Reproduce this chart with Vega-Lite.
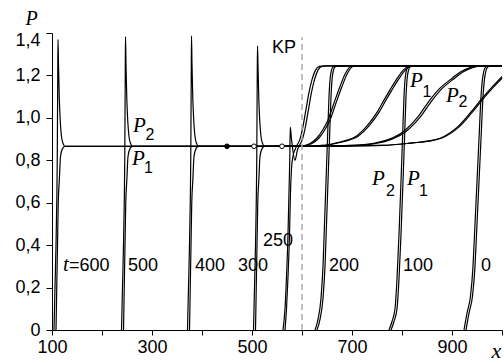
{
  "$schema": "https://vega.github.io/schema/vega-lite/v6.json",
  "width": 450,
  "height": 297,
  "autosize": {"type": "none"},
  "padding": {"left": 52, "top": 33, "right": 2, "bottom": 31},
  "background": "white",
  "config": {"view": {"stroke": null}},
  "datasets": {
    "profiles": [
      {"t":600,"v":"P2","x":104,"p":0},{"t":600,"v":"P2","x":106,"p":0.2},{"t":600,"v":"P2","x":108,"p":0.4},{"t":600,"v":"P2","x":109.5,"p":0.6},{"t":600,"v":"P2","x":110.5,"p":0.8},{"t":600,"v":"P2","x":111,"p":1.0},{"t":600,"v":"P2","x":111.5,"p":1.2},{"t":600,"v":"P2","x":112,"p":1.37},{"t":600,"v":"P2","x":113,"p":1.25},{"t":600,"v":"P2","x":114.5,"p":1.1},{"t":600,"v":"P2","x":116,"p":1.01},{"t":600,"v":"P2","x":119,"p":0.912},{"t":600,"v":"P2","x":122,"p":0.88},{"t":600,"v":"P2","x":126,"p":0.866},
      {"t":600,"v":"P2","x":603,"p":0.866},{"t":600,"v":"P2","x":763,"p":0.87},{"t":600,"v":"P2","x":823,"p":0.882},{"t":600,"v":"P2","x":853,"p":0.89},{"t":600,"v":"P2","x":879,"p":0.904},{"t":600,"v":"P2","x":913,"p":0.955},{"t":600,"v":"P2","x":939,"p":1.022},{"t":600,"v":"P2","x":966,"p":1.1},{"t":600,"v":"P2","x":983,"p":1.145},{"t":600,"v":"P2","x":1000,"p":1.187},
      {"t":600,"v":"P1","x":108,"p":0},{"t":600,"v":"P1","x":109.5,"p":0.2},{"t":600,"v":"P1","x":111,"p":0.4},{"t":600,"v":"P1","x":112.5,"p":0.6},{"t":600,"v":"P1","x":114.7,"p":0.708},{"t":600,"v":"P1","x":117,"p":0.818},{"t":600,"v":"P1","x":121,"p":0.855},{"t":600,"v":"P1","x":126,"p":0.866},
      {"t":600,"v":"P1","x":600,"p":0.866},{"t":600,"v":"P1","x":760,"p":0.87},{"t":600,"v":"P1","x":820,"p":0.882},{"t":600,"v":"P1","x":850,"p":0.89},{"t":600,"v":"P1","x":876,"p":0.904},{"t":600,"v":"P1","x":910,"p":0.955},{"t":600,"v":"P1","x":936,"p":1.022},{"t":600,"v":"P1","x":963,"p":1.1},{"t":600,"v":"P1","x":980,"p":1.145},{"t":600,"v":"P1","x":1000,"p":1.195},

      {"t":500,"v":"P2","x":239,"p":0},{"t":500,"v":"P2","x":241,"p":0.2},{"t":500,"v":"P2","x":243,"p":0.4},{"t":500,"v":"P2","x":244.5,"p":0.6},{"t":500,"v":"P2","x":245.5,"p":0.8},{"t":500,"v":"P2","x":246,"p":1.0},{"t":500,"v":"P2","x":246.5,"p":1.2},{"t":500,"v":"P2","x":247,"p":1.383},{"t":500,"v":"P2","x":248,"p":1.25},{"t":500,"v":"P2","x":249.5,"p":1.1},{"t":500,"v":"P2","x":251,"p":1.01},{"t":500,"v":"P2","x":254,"p":0.912},{"t":500,"v":"P2","x":257,"p":0.88},{"t":500,"v":"P2","x":261,"p":0.866},
      {"t":500,"v":"P2","x":605,"p":0.866},{"t":500,"v":"P2","x":705,"p":0.87},{"t":500,"v":"P2","x":748,"p":0.88},{"t":500,"v":"P2","x":780,"p":0.9},{"t":500,"v":"P2","x":808,"p":0.936},{"t":500,"v":"P2","x":835,"p":1.0},{"t":500,"v":"P2","x":861,"p":1.085},{"t":500,"v":"P2","x":881,"p":1.14},{"t":500,"v":"P2","x":901,"p":1.179},{"t":500,"v":"P2","x":921,"p":1.215},{"t":500,"v":"P2","x":941,"p":1.237},{"t":500,"v":"P2","x":957,"p":1.245},{"t":500,"v":"P2","x":1000,"p":1.245},
      {"t":500,"v":"P1","x":243,"p":0},{"t":500,"v":"P1","x":244.5,"p":0.2},{"t":500,"v":"P1","x":246,"p":0.4},{"t":500,"v":"P1","x":247.5,"p":0.6},{"t":500,"v":"P1","x":249.7,"p":0.708},{"t":500,"v":"P1","x":252,"p":0.818},{"t":500,"v":"P1","x":256,"p":0.855},{"t":500,"v":"P1","x":261,"p":0.866},
      {"t":500,"v":"P1","x":600,"p":0.866},{"t":500,"v":"P1","x":700,"p":0.87},{"t":500,"v":"P1","x":743,"p":0.88},{"t":500,"v":"P1","x":775,"p":0.9},{"t":500,"v":"P1","x":803,"p":0.936},{"t":500,"v":"P1","x":830,"p":1.0},{"t":500,"v":"P1","x":856,"p":1.085},{"t":500,"v":"P1","x":876,"p":1.14},{"t":500,"v":"P1","x":896,"p":1.179},{"t":500,"v":"P1","x":916,"p":1.215},{"t":500,"v":"P1","x":936,"p":1.237},{"t":500,"v":"P1","x":952,"p":1.245},{"t":500,"v":"P1","x":1000,"p":1.245},

      {"t":400,"v":"P2","x":371,"p":0},{"t":400,"v":"P2","x":373,"p":0.2},{"t":400,"v":"P2","x":375,"p":0.4},{"t":400,"v":"P2","x":376.5,"p":0.6},{"t":400,"v":"P2","x":377.5,"p":0.8},{"t":400,"v":"P2","x":378,"p":1.0},{"t":400,"v":"P2","x":378.5,"p":1.2},{"t":400,"v":"P2","x":379,"p":1.387},{"t":400,"v":"P2","x":380,"p":1.25},{"t":400,"v":"P2","x":381.5,"p":1.1},{"t":400,"v":"P2","x":383,"p":1.01},{"t":400,"v":"P2","x":386,"p":0.912},{"t":400,"v":"P2","x":389,"p":0.88},{"t":400,"v":"P2","x":393,"p":0.866},
      {"t":400,"v":"P2","x":604,"p":0.866},{"t":400,"v":"P2","x":644,"p":0.87},{"t":400,"v":"P2","x":674,"p":0.883},{"t":400,"v":"P2","x":694,"p":0.895},{"t":400,"v":"P2","x":713,"p":0.915},{"t":400,"v":"P2","x":734,"p":0.962},{"t":400,"v":"P2","x":753,"p":1.022},{"t":400,"v":"P2","x":767,"p":1.08},{"t":400,"v":"P2","x":780,"p":1.132},{"t":400,"v":"P2","x":794,"p":1.185},{"t":400,"v":"P2","x":807,"p":1.226},{"t":400,"v":"P2","x":816,"p":1.242},{"t":400,"v":"P2","x":824,"p":1.245},{"t":400,"v":"P2","x":1000,"p":1.245},
      {"t":400,"v":"P1","x":375,"p":0},{"t":400,"v":"P1","x":376.5,"p":0.2},{"t":400,"v":"P1","x":378,"p":0.4},{"t":400,"v":"P1","x":379.5,"p":0.6},{"t":400,"v":"P1","x":381.7,"p":0.708},{"t":400,"v":"P1","x":384,"p":0.818},{"t":400,"v":"P1","x":388,"p":0.855},{"t":400,"v":"P1","x":393,"p":0.866},
      {"t":400,"v":"P1","x":600,"p":0.866},{"t":400,"v":"P1","x":640,"p":0.87},{"t":400,"v":"P1","x":670,"p":0.883},{"t":400,"v":"P1","x":690,"p":0.895},{"t":400,"v":"P1","x":709,"p":0.915},{"t":400,"v":"P1","x":730,"p":0.962},{"t":400,"v":"P1","x":749,"p":1.022},{"t":400,"v":"P1","x":763,"p":1.08},{"t":400,"v":"P1","x":776,"p":1.132},{"t":400,"v":"P1","x":790,"p":1.185},{"t":400,"v":"P1","x":803,"p":1.226},{"t":400,"v":"P1","x":812,"p":1.242},{"t":400,"v":"P1","x":820,"p":1.245},{"t":400,"v":"P1","x":1000,"p":1.245},

      {"t":300,"v":"P2","x":503,"p":0},{"t":300,"v":"P2","x":505,"p":0.2},{"t":300,"v":"P2","x":507,"p":0.4},{"t":300,"v":"P2","x":508.5,"p":0.6},{"t":300,"v":"P2","x":509.5,"p":0.8},{"t":300,"v":"P2","x":510,"p":1.0},{"t":300,"v":"P2","x":510.5,"p":1.2},{"t":300,"v":"P2","x":511,"p":1.34},{"t":300,"v":"P2","x":512,"p":1.25},{"t":300,"v":"P2","x":513.5,"p":1.1},{"t":300,"v":"P2","x":515,"p":1.01},{"t":300,"v":"P2","x":518,"p":0.912},{"t":300,"v":"P2","x":521,"p":0.88},{"t":300,"v":"P2","x":525,"p":0.866},
      {"t":300,"v":"P2","x":604,"p":0.868},{"t":300,"v":"P2","x":619,"p":0.878},{"t":300,"v":"P2","x":634,"p":0.905},{"t":300,"v":"P2","x":646,"p":0.945},{"t":300,"v":"P2","x":656,"p":0.99},{"t":300,"v":"P2","x":668,"p":1.07},{"t":300,"v":"P2","x":680,"p":1.148},{"t":300,"v":"P2","x":692,"p":1.215},{"t":300,"v":"P2","x":702,"p":1.242},{"t":300,"v":"P2","x":712,"p":1.245},{"t":300,"v":"P2","x":1000,"p":1.245},
      {"t":300,"v":"P1","x":507,"p":0},{"t":300,"v":"P1","x":508.5,"p":0.2},{"t":300,"v":"P1","x":510,"p":0.4},{"t":300,"v":"P1","x":511.5,"p":0.6},{"t":300,"v":"P1","x":513.7,"p":0.708},{"t":300,"v":"P1","x":516,"p":0.818},{"t":300,"v":"P1","x":520,"p":0.855},{"t":300,"v":"P1","x":525,"p":0.866},
      {"t":300,"v":"P1","x":600,"p":0.868},{"t":300,"v":"P1","x":615,"p":0.878},{"t":300,"v":"P1","x":630,"p":0.905},{"t":300,"v":"P1","x":642,"p":0.945},{"t":300,"v":"P1","x":652,"p":0.99},{"t":300,"v":"P1","x":664,"p":1.07},{"t":300,"v":"P1","x":676,"p":1.148},{"t":300,"v":"P1","x":688,"p":1.215},{"t":300,"v":"P1","x":698,"p":1.242},{"t":300,"v":"P1","x":708,"p":1.245},{"t":300,"v":"P1","x":1000,"p":1.245},

      {"t":250,"v":"P2","x":562,"p":0},{"t":250,"v":"P2","x":566,"p":0.1},{"t":250,"v":"P2","x":569,"p":0.25},{"t":250,"v":"P2","x":572,"p":0.45},{"t":250,"v":"P2","x":574,"p":0.65},{"t":250,"v":"P2","x":575.5,"p":0.8},{"t":250,"v":"P2","x":576.5,"p":0.956},{"t":250,"v":"P2","x":579,"p":0.9},{"t":250,"v":"P2","x":586,"p":0.8},{"t":250,"v":"P2","x":591,"p":0.85},{"t":250,"v":"P2","x":595,"p":0.87},{"t":250,"v":"P2","x":601,"p":0.9},{"t":250,"v":"P2","x":607,"p":0.96},{"t":250,"v":"P2","x":613,"p":1.04},{"t":250,"v":"P2","x":619,"p":1.12},{"t":250,"v":"P2","x":625,"p":1.18},{"t":250,"v":"P2","x":632,"p":1.225},{"t":250,"v":"P2","x":640,"p":1.243},{"t":250,"v":"P2","x":650,"p":1.245},{"t":250,"v":"P2","x":1000,"p":1.245},
      {"t":250,"v":"P1","x":566,"p":0},{"t":250,"v":"P1","x":569,"p":0.1},{"t":250,"v":"P1","x":572,"p":0.25},{"t":250,"v":"P1","x":575,"p":0.45},{"t":250,"v":"P1","x":577,"p":0.65},{"t":250,"v":"P1","x":579,"p":0.76},{"t":250,"v":"P1","x":582,"p":0.82},{"t":250,"v":"P1","x":586,"p":0.85},{"t":250,"v":"P1","x":590,"p":0.87},{"t":250,"v":"P1","x":596,"p":0.9},{"t":250,"v":"P1","x":602,"p":0.96},{"t":250,"v":"P1","x":608,"p":1.04},{"t":250,"v":"P1","x":614,"p":1.12},{"t":250,"v":"P1","x":620,"p":1.18},{"t":250,"v":"P1","x":627,"p":1.225},{"t":250,"v":"P1","x":635,"p":1.243},{"t":250,"v":"P1","x":645,"p":1.245},{"t":250,"v":"P1","x":1000,"p":1.245},

      {"t":200,"v":"P2","x":626,"p":0},{"t":200,"v":"P2","x":632,"p":0.05},{"t":200,"v":"P2","x":638,"p":0.15},{"t":200,"v":"P2","x":642,"p":0.3},{"t":200,"v":"P2","x":645,"p":0.5},{"t":200,"v":"P2","x":648,"p":0.7},{"t":200,"v":"P2","x":651,"p":0.9},{"t":200,"v":"P2","x":654,"p":1.1},{"t":200,"v":"P2","x":657,"p":1.2},{"t":200,"v":"P2","x":662,"p":1.24},{"t":200,"v":"P2","x":668,"p":1.245},{"t":200,"v":"P2","x":1000,"p":1.245},
      {"t":200,"v":"P1","x":630,"p":0},{"t":200,"v":"P1","x":636,"p":0.05},{"t":200,"v":"P1","x":642,"p":0.15},{"t":200,"v":"P1","x":646,"p":0.3},{"t":200,"v":"P1","x":649,"p":0.5},{"t":200,"v":"P1","x":652,"p":0.7},{"t":200,"v":"P1","x":655,"p":0.9},{"t":200,"v":"P1","x":658,"p":1.1},{"t":200,"v":"P1","x":661,"p":1.2},{"t":200,"v":"P1","x":666,"p":1.24},{"t":200,"v":"P1","x":672,"p":1.245},{"t":200,"v":"P1","x":1000,"p":1.245},

      {"t":100,"v":"P2","x":774,"p":0},{"t":100,"v":"P2","x":780,"p":0.04},{"t":100,"v":"P2","x":786,"p":0.1},{"t":100,"v":"P2","x":790,"p":0.24},{"t":100,"v":"P2","x":794,"p":0.45},{"t":100,"v":"P2","x":798,"p":0.7},{"t":100,"v":"P2","x":801,"p":0.9},{"t":100,"v":"P2","x":804,"p":1.1},{"t":100,"v":"P2","x":807,"p":1.2},{"t":100,"v":"P2","x":812,"p":1.24},{"t":100,"v":"P2","x":818,"p":1.245},{"t":100,"v":"P2","x":1000,"p":1.245},
      {"t":100,"v":"P1","x":778,"p":0},{"t":100,"v":"P1","x":784,"p":0.04},{"t":100,"v":"P1","x":790,"p":0.1},{"t":100,"v":"P1","x":794,"p":0.24},{"t":100,"v":"P1","x":798,"p":0.45},{"t":100,"v":"P1","x":802,"p":0.7},{"t":100,"v":"P1","x":805,"p":0.9},{"t":100,"v":"P1","x":808,"p":1.1},{"t":100,"v":"P1","x":811,"p":1.2},{"t":100,"v":"P1","x":816,"p":1.24},{"t":100,"v":"P1","x":822,"p":1.245},{"t":100,"v":"P1","x":1000,"p":1.245},

      {"t":0,"v":"P2","x":924,"p":0},{"t":0,"v":"P2","x":930,"p":0.08},{"t":0,"v":"P2","x":937,"p":0.16},{"t":0,"v":"P2","x":942,"p":0.3},{"t":0,"v":"P2","x":946,"p":0.5},{"t":0,"v":"P2","x":950,"p":0.7},{"t":0,"v":"P2","x":954,"p":0.9},{"t":0,"v":"P2","x":958,"p":1.1},{"t":0,"v":"P2","x":962,"p":1.2},{"t":0,"v":"P2","x":967,"p":1.238},{"t":0,"v":"P2","x":974,"p":1.245},{"t":0,"v":"P2","x":1000,"p":1.245},
      {"t":0,"v":"P1","x":928,"p":0},{"t":0,"v":"P1","x":934,"p":0.08},{"t":0,"v":"P1","x":941,"p":0.16},{"t":0,"v":"P1","x":946,"p":0.3},{"t":0,"v":"P1","x":950,"p":0.5},{"t":0,"v":"P1","x":954,"p":0.7},{"t":0,"v":"P1","x":958,"p":0.9},{"t":0,"v":"P1","x":962,"p":1.1},{"t":0,"v":"P1","x":966,"p":1.2},{"t":0,"v":"P1","x":971,"p":1.238},{"t":0,"v":"P1","x":978,"p":1.245},{"t":0,"v":"P1","x":1000,"p":1.245}
    ],
    "kp": [
      {"x": 600, "p": 0, "p2": 1.38}
    ],
    "markers": [
      {"x": 450, "p": 0.866, "kind": "solid"},
      {"x": 504, "p": 0.866, "kind": "hollow"},
      {"x": 560, "p": 0.866, "kind": "hollow"}
    ],
    "numLabels": [
      {"x": 134, "p": 0.28, "text": "=600"},
      {"x": 252, "p": 0.28, "text": "500"},
      {"x": 386, "p": 0.28, "text": "400"},
      {"x": 472, "p": 0.28, "text": "300"},
      {"x": 522, "p": 0.398, "text": "250"},
      {"x": 654, "p": 0.28, "text": "200"},
      {"x": 802, "p": 0.28, "text": "100"},
      {"x": 958, "p": 0.28, "text": "0"},
      {"x": 540, "p": 1.307, "text": "KP"}
    ],
    "italicLabels": [
      {"x": 122, "p": 0.28, "text": "t"},
      {"x": 262, "p": 0.934, "text": "P"},
      {"x": 260, "p": 0.778, "text": "P"},
      {"x": 740, "p": 0.684, "text": "P"},
      {"x": 810, "p": 0.684, "text": "P"},
      {"x": 816, "p": 1.146, "text": "P"},
      {"x": 888, "p": 1.075, "text": "P"}
    ],
    "subLabels": [
      {"x": 287, "p": 0.896, "text": "2"},
      {"x": 284, "p": 0.741, "text": "1"},
      {"x": 768, "p": 0.632, "text": "2"},
      {"x": 834, "p": 0.632, "text": "1"},
      {"x": 841, "p": 1.099, "text": "1"},
      {"x": 913, "p": 1.052, "text": "2"}
    ]
  },
  "layer": [
    {
      "data": {"name": "profiles"},
      "mark": {"type": "line", "color": "black", "strokeWidth": 1.2, "interpolate": "monotone"},
      "encoding": {
        "x": {
          "field": "x", "type": "quantitative",
          "scale": {"domain": [100, 1000], "nice": false, "zero": false},
          "axis": {
            "title": "x", "titleAngle": 0, "titleX": 439, "titleY": 27, "titleAlign": "left", "titleBaseline": "alphabetic",
            "titleFont": "Liberation Serif", "titleFontStyle": "italic", "titleFontWeight": "normal", "titleFontSize": 22, "titleColor": "black",
            "values": [100, 200, 300, 400, 500, 600, 700, 800, 900, 1000],
            "labelExpr": "datum.value % 200 == 100 ? datum.label : ''",
            "labelFont": "Liberation Sans", "labelFontSize": 18, "labelColor": "black", "labelFlush": false, "labelOverlap": false,
            "labelPadding": 3, "tickSize": 5, "tickColor": "black", "domainColor": "black", "grid": false
          }
        },
        "y": {
          "field": "p", "type": "quantitative",
          "scale": {"domain": [0, 1.4], "nice": false},
          "axis": {
            "title": "P", "titleAngle": 0, "titleX": -27, "titleY": -9, "titleAlign": "left", "titleBaseline": "alphabetic",
            "titleFont": "Liberation Serif", "titleFontStyle": "italic", "titleFontWeight": "normal", "titleFontSize": 20, "titleColor": "black",
            "values": [0, 0.2, 0.4, 0.6, 0.8, 1.0, 1.2, 1.4],
            "labelExpr": "datum.value == 0 ? '0' : replace(format(datum.value, '.1f'), '.', ',')",
            "labelOffset": {"condition": {"test": "datum.value == 1.4", "value": 7}, "value": 0},
            "labelFont": "Liberation Sans", "labelFontSize": 18, "labelColor": "black", "labelFlush": false, "labelOverlap": false,
            "labelPadding": 6, "tickSize": 6, "tickColor": "black", "domainColor": "black", "grid": false
          }
        },
        "detail": [{"field": "t"}, {"field": "v"}]
      }
    },
    {
      "data": {"name": "kp"},
      "mark": {"type": "rule", "stroke": "#aaaaaa", "strokeWidth": 1.5, "strokeDash": [6, 4]},
      "encoding": {
        "x": {"field": "x", "type": "quantitative"},
        "y": {"field": "p", "type": "quantitative"},
        "y2": {"field": "p2"}
      }
    },
    {
      "data": {"name": "markers"},
      "mark": {"type": "point", "shape": "circle", "size": 22, "stroke": "black", "strokeWidth": 1, "opacity": 1},
      "encoding": {
        "x": {"field": "x", "type": "quantitative"},
        "y": {"field": "p", "type": "quantitative"},
        "fill": {"field": "kind", "type": "nominal", "scale": {"domain": ["solid", "hollow"], "range": ["black", "white"]}, "legend": null}
      }
    },
    {
      "data": {"name": "numLabels"},
      "mark": {"type": "text", "font": "Liberation Sans", "fontSize": 18, "align": "left", "baseline": "alphabetic", "color": "black"},
      "encoding": {
        "x": {"field": "x", "type": "quantitative"},
        "y": {"field": "p", "type": "quantitative"},
        "text": {"field": "text"}
      }
    },
    {
      "data": {"name": "italicLabels"},
      "mark": {"type": "text", "font": "Liberation Serif", "fontStyle": "italic", "fontSize": 21, "align": "left", "baseline": "alphabetic", "color": "black"},
      "encoding": {
        "x": {"field": "x", "type": "quantitative"},
        "y": {"field": "p", "type": "quantitative"},
        "text": {"field": "text"}
      }
    },
    {
      "data": {"name": "subLabels"},
      "mark": {"type": "text", "font": "Liberation Sans", "fontSize": 16, "align": "left", "baseline": "alphabetic", "color": "black"},
      "encoding": {
        "x": {"field": "x", "type": "quantitative"},
        "y": {"field": "p", "type": "quantitative"},
        "text": {"field": "text"}
      }
    }
  ]
}
